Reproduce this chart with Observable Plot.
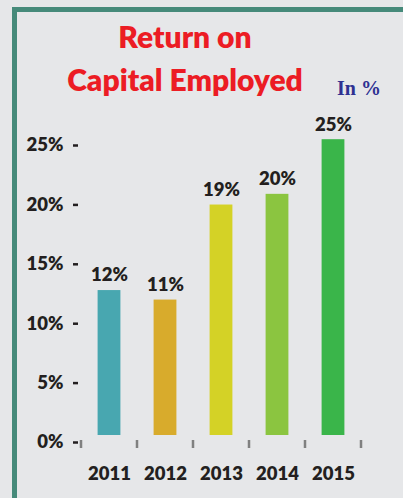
<!DOCTYPE html>
<html>
<head>
<meta charset="utf-8">
<script src="https://cdn.jsdelivr.net/npm/d3@7"></script>
<script src="https://cdn.jsdelivr.net/npm/@observablehq/plot@0.6"></script>
<style>
  html, body { margin: 0; padding: 0; background: #e6e7e9; }
  #wrap { position: relative; width: 403px; height: 498px; overflow: hidden; background: #e6e7e9; }
  #frame { position: absolute; left: 12px; top: 7px; right: -10px; bottom: -10px;
           border-left: 5px solid #468a7a; border-top: 5px solid #468a7a; }
  .title { position: absolute; left: 0; width: 370px; text-align: center;
           font-family: Lato, sans-serif; font-weight: 800; font-size: 30px; line-height: 30px; color: #ec1c24; }
  #unit { position: absolute; left: 337px; top: 78px; font-family: "Liberation Serif", serif; font-weight: bold;
          font-size: 20px; line-height: 20px; color: #2e3192; white-space: nowrap; }
  #chart { position: absolute; left: 0; top: 0; }
</style>
</head>
<body>
<div id="wrap">
  <div id="frame"></div>
  <div class="title" style="top:21px">Return on</div>
  <div class="title" style="top:64px">Capital Employed</div>
  <div id="unit">In %</div>
  <div id="chart"></div>
</div>
<script>
const years = ["2011", "2012", "2013", "2014", "2015"];
const values = [12.2, 11.4, 19.4, 20.3, 24.9];
const colors = ["#48a7b0", "#d8ab2c", "#d4d226", "#8bc540", "#3ab54a"];
const yTicks = [0, 5, 10, 15, 20, 25];

const data = years.map((year, i) => ({year, value: values[i], color: colors[i]}));

function boundaryTicks(index, scales, values, dimensions) {
  const x = scales.x, y = scales.y;
  const bw = typeof x.bandwidth === "function" ? x.bandwidth() : x.bandwidth;
  const edges = years.map(v => x(v)).concat([x(years[years.length - 1]) + bw]);
  const y0 = y(0);
  const g = d3.create("svg:g");
  g.selectAll("rect").data(edges).join("rect")
    .attr("x", d => d - 1.25).attr("width", 2.5)
    .attr("y", y0 + 5).attr("height", 8)
    .attr("fill", "#808080");
  return g.node();
}

const chart = Plot.plot({
  width: 403,
  height: 498,
  marginLeft: 80,
  marginRight: 42,
  marginTop: 138,
  marginBottom: 63,
  x: {domain: years, padding: 0, axis: null, label: null},
  y: {domain: [0, 25], axis: null, label: null},
  color: {type: "identity"},
  style: {background: "transparent", fontFamily: "Lato, sans-serif", fontWeight: "800", fontSize: "18.5px", color: "#231f20", overflow: "visible"},
  marks: [
    Plot.barY(data, {x: "year", y: "value", fill: "color", insetLeft: 16.6, insetRight: 16.6}),
    Plot.text(data, {x: "year", y: "value", text: d => d3.format(".0f")(d.value) + "%", dy: -15, fill: "#231f20", fontSize: 18.5, fontWeight: "800"}),
    Plot.axisY(yTicks, {label: null, tickSize: 5, tickPadding: 10, dx: -2, dy: 7, strokeWidth: 2.5, stroke: "#231f20", fill: "#231f20", tickFormat: d => d + "%", fontSize: 18.5, fontWeight: "800"}),
    Plot.axisX({label: null, tickSize: 0, tickPadding: 31, fill: "#231f20", fontSize: 18.5, fontWeight: "800"}),
    boundaryTicks
  ]
});
document.getElementById("chart").appendChild(chart);
</script>
</body>
</html>
